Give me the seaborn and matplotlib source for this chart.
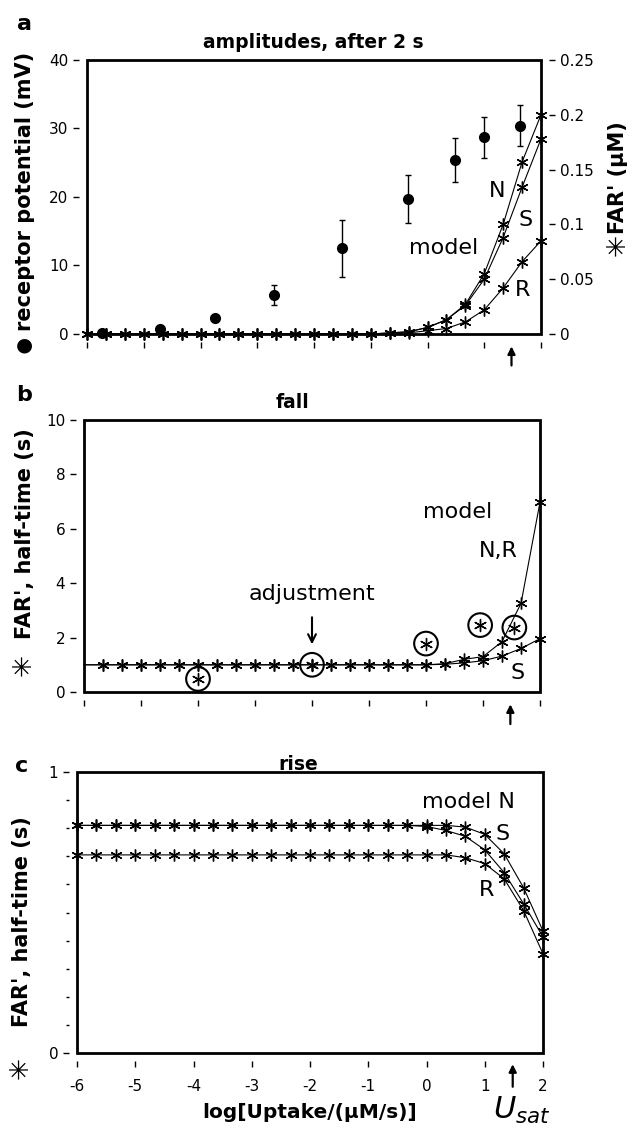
import matplotlib
matplotlib.use("Agg")
import matplotlib.pyplot as plt
from matplotlib.patches import Rectangle
from matplotlib.ticker import MultipleLocator, FixedLocator
import seaborn as sns

sns.set_theme(style="white")
plt.rcParams["font.family"] = ["DejaVu Sans"]
plt.rcParams["axes.unicode_minus"] = False
plt.rcParams["mathtext.fontset"] = "dejavusans"
for k in ["text.color", "axes.labelcolor", "xtick.color", "ytick.color"]:
    plt.rcParams[k] = "black"

# ---------------- data ----------------
x_model = [-6.0, -5.667, -5.333, -5.0, -4.667, -4.333, -4.0, -3.667, -3.333,
           -3.0, -2.667, -2.333, -2.0, -1.667, -1.333, -1.0, -0.667, -0.333,
           0.0, 0.333, 0.667, 1.0, 1.333, 1.667, 2.0]

# panel a: FAR' amplitude after 2 s (uM), right axis
a_N = [0, 0, 0, 0, 0, 0, 0, 0, 0, 0, 0, 0, 0, 0, 0, 0,
       0.001, 0.002, 0.006, 0.013, 0.027, 0.055, 0.100, 0.157, 0.200]
a_S = [0, 0, 0, 0, 0, 0, 0, 0, 0, 0, 0, 0, 0, 0, 0, 0,
       0.001, 0.002, 0.006, 0.013, 0.026, 0.050, 0.088, 0.134, 0.178]
a_R = [0, 0, 0, 0, 0, 0, 0, 0, 0, 0, 0, 0, 0, 0, 0, 0,
       0.0005, 0.001, 0.003, 0.005, 0.011, 0.022, 0.042, 0.066, 0.085]

# panel a: receptor potential (mV), left axis
exp_x = [-5.73, -4.72, -3.74, -2.70, -1.51, -0.34, 0.48, 0.99, 1.63]
exp_mV = [0.2, 0.7, 2.4, 5.7, 12.5, 19.7, 25.4, 28.7, 30.4]
exp_err = [0.0, 0.0, 0.0, 1.4, 4.2, 3.5, 3.2, 3.0, 3.0]

# panel b: fall half-time (s)
b_NR = [1.0, 1.0, 1.0, 1.0, 1.0, 1.0, 1.0, 1.0, 1.0, 1.0, 1.0, 1.0, 1.0,
        1.0, 1.0, 1.0, 1.0, 1.0, 1.0, 1.04, 1.2, 1.3, 1.85, 3.26, 6.98]
b_S = [1.0, 1.0, 1.0, 1.0, 1.0, 1.0, 1.0, 1.0, 1.0, 1.0, 1.0, 1.0, 1.0,
       1.0, 1.0, 1.0, 1.0, 1.0, 1.0, 1.02, 1.07, 1.15, 1.32, 1.6, 1.96]
adj_x = [-4.0, -2.0, 0.0, 0.95, 1.55]
adj_y = [0.48, 1.0, 1.78, 2.46, 2.37]

# panel c: rise half-time (s)
c_N = [0.81, 0.81, 0.81, 0.81, 0.81, 0.81, 0.81, 0.81, 0.81, 0.81, 0.81,
       0.81, 0.81, 0.81, 0.81, 0.81, 0.81, 0.81, 0.81, 0.81, 0.804, 0.778,
       0.709, 0.588, 0.434]
c_S = [0.81, 0.81, 0.81, 0.81, 0.81, 0.81, 0.81, 0.81, 0.81, 0.81, 0.81,
       0.81, 0.81, 0.81, 0.81, 0.81, 0.81, 0.81, 0.806, 0.792, 0.771, 0.723,
       0.642, 0.531, 0.413]
c_R = [0.705, 0.705, 0.705, 0.705, 0.705, 0.705, 0.705, 0.705, 0.705, 0.705,
       0.705, 0.705, 0.705, 0.705, 0.705, 0.705, 0.705, 0.705, 0.705, 0.705,
       0.695, 0.674, 0.62, 0.507, 0.353]

x_ticks = [-6, -5, -4, -3, -2, -1, 0, 1, 2]
x_ticklabels = ["-6", "-5", "-4", "-3", "-2", "-1", "0", "1", "2"]
u_sat = 1.48

# ---------------- figure ----------------
W, H = 632, 1130
fig = plt.figure(figsize=(W / 100, H / 100), dpi=100)


def rect(l, t, r, b):
    return [l / W, 1 - b / H, (r - l) / W, (b - t) / H]


def fx(px):
    return px / W


def fy(py):
    return 1 - py / H


axA = fig.add_axes(rect(87, 60, 541, 334))
axB = fig.add_axes(rect(84, 420, 540, 692))
axC = fig.add_axes(rect(77, 772, 543, 1053))

AST = (6, 2, 0)
line_kw = dict(color="black", lw=0.8, marker=AST, markersize=8.5, mec="black",
               mew=1.0, clip_on=False, zorder=4, estimator=None, sort=False,
               legend=False)


def style_axes(ax):
    ax.set_xlim(-6, 2)
    ax.set_facecolor("none")
    for s in ["left", "bottom", "right", "top"]:
        ax.spines[s].set_visible(False)
    ax.spines["left"].set_position(("outward", 5.5))
    ax.spines["bottom"].set_position(("outward", 5.5))
    ax.spines["right"].set_position(("outward", 5.5))
    ax.add_patch(Rectangle((0, 0), 1, 1, transform=ax.transAxes, fill=False,
                           lw=2.0, ec="black", clip_on=False, zorder=3))
    ax.tick_params(axis="both", which="major", direction="out", length=4,
                   width=1, color="black", labelsize=11, pad=4,
                   bottom=True, left=True)
    ax.xaxis.set_major_locator(FixedLocator(x_ticks))
    ax.grid(False)
    ax.set_xlabel("")
    ax.set_ylabel("")


# ---- panel a ----
style_axes(axA)
axA.set_ylim(0, 40)
axA.set_yticks([0, 10, 20, 30, 40])
axA.set_xticklabels([])
axA.errorbar(exp_x, exp_mV, yerr=exp_err, fmt="o", color="black", ms=7,
             elinewidth=1, capsize=2.5, capthick=1, clip_on=False, zorder=5)
axA2 = axA.twinx()
axA2.set_ylim(0, 0.25)
axA2.set_facecolor("none")
for s in ["left", "bottom", "right", "top"]:
    axA2.spines[s].set_visible(False)
axA2.spines["right"].set_position(("outward", 5.5))
axA2.set_yticks([0, 0.05, 0.1, 0.15, 0.2, 0.25])
axA2.set_yticklabels(["0", "0.05", "0.1", "0.15", "0.2", "0.25"])
axA2.tick_params(axis="y", direction="out", length=4, width=1, labelsize=11,
                 pad=4, right=True)
axA2.grid(False)
sns.lineplot(x=x_model, y=a_R, ax=axA2, **line_kw)
sns.lineplot(x=x_model, y=a_S, ax=axA2, **line_kw)
sns.lineplot(x=x_model, y=a_N, ax=axA2, **line_kw)
axA2.set_ylabel("")
axA2.set_xlim(-6, 2)

txt_kw = dict(fontsize=16, ha="center", va="center", color="black")
axA.text(1.22, 20.9, "N", **txt_kw)
axA.text(1.72, 16.7, "S", **txt_kw)
axA.text(0.28, 12.5, "model", **txt_kw)
axA.text(1.68, 6.4, "R", **txt_kw)

arrow_kw = dict(arrowstyle="-|>", lw=1.6, color="black", mutation_scale=11)
axA.annotate("", xy=(u_sat, -0.035), xycoords=("data", "axes fraction"),
             xytext=(u_sat, -0.125), textcoords=("data", "axes fraction"),
             arrowprops=arrow_kw, annotation_clip=False)

# ---- panel b ----
style_axes(axB)
axB.set_ylim(0, 10)
axB.set_yticks([0, 2, 4, 6, 8, 10])
axB.set_xticklabels([])
kwb = dict(line_kw)
kwb["markevery"] = list(range(1, 25))
sns.lineplot(x=x_model, y=b_S, ax=axB, **kwb)
sns.lineplot(x=x_model, y=b_NR, ax=axB, **kwb)
sns.scatterplot(x=adj_x, y=adj_y, ax=axB, marker=AST, s=75, color="black",
                edgecolor="black", linewidth=1.0, zorder=5, clip_on=False,
                legend=False)
sns.scatterplot(x=adj_x, y=adj_y, ax=axB, marker="o", s=290,
                facecolor="none", edgecolor="black", linewidth=1.5, zorder=5,
                clip_on=False, legend=False)
axB.set_xlabel("")
axB.set_ylabel("")
axB.text(0.56, 6.6, "model", **txt_kw)
axB.text(1.27, 5.2, "N,R", **txt_kw)
axB.text(1.6, 0.7, "S", **txt_kw)
axB.text(-2.0, 3.6, "adjustment", **txt_kw)
axB.annotate("", xy=(-2.0, 1.65), xytext=(-2.0, 2.85),
             arrowprops=dict(arrowstyle="->", lw=1.5, color="black",
                             mutation_scale=14))
axB.annotate("", xy=(u_sat, -0.035), xycoords=("data", "axes fraction"),
             xytext=(u_sat, -0.128), textcoords=("data", "axes fraction"),
             arrowprops=arrow_kw, annotation_clip=False)

# ---- panel c ----
style_axes(axC)
axC.set_ylim(0, 1)
axC.set_yticks([0, 1])
axC.yaxis.set_minor_locator(MultipleLocator(0.1))
axC.tick_params(axis="y", which="minor", direction="out", length=2, width=1,
                left=True)
axC.set_xticklabels(x_ticklabels)
axC.tick_params(axis="x", pad=9)
sns.lineplot(x=x_model, y=c_R, ax=axC, **line_kw)
sns.lineplot(x=x_model, y=c_S, ax=axC, **line_kw)
sns.lineplot(x=x_model, y=c_N, ax=axC, **line_kw)
axC.set_xlabel("")
axC.set_ylabel("")
axC.text(0.72, 0.894, "model N", **txt_kw)
axC.text(1.31, 0.779, "S", **txt_kw)
axC.text(1.03, 0.58, "R", **txt_kw)
axC.annotate("", xy=(u_sat, -0.03), xycoords=("data", "axes fraction"),
             xytext=(u_sat, -0.13), textcoords=("data", "axes fraction"),
             arrowprops=arrow_kw, annotation_clip=False)

# ---------------- texts ----------------
fig.text(fx(25), fy(24), "a", fontsize=16, fontweight="bold", ha="center", va="center")
fig.text(fx(24), fy(395), "b", fontsize=16, fontweight="bold", ha="center", va="center")
fig.text(fx(22), fy(766), "c", fontsize=16, fontweight="bold", ha="center", va="center")

fig.text(fx(313), fy(43), "amplitudes, after 2 s", fontsize=13.5,
         fontweight="bold", ha="center", va="center")
fig.text(fx(293), fy(402), "fall", fontsize=13.5, fontweight="bold",
         ha="center", va="center")
fig.text(fx(298), fy(765), "rise", fontsize=13.5, fontweight="bold",
         ha="center", va="center")

lab_kw = dict(fontsize=15, fontweight="bold", rotation=90, ha="center",
              va="center")
sym_kw = dict(fontsize=19, rotation=90, ha="center", va="center")
fig.text(fx(25), fy(191), "receptor potential (mV)", **lab_kw)
fig.text(fx(24), fy(345), "●", fontsize=14, ha="center", va="center")
fig.text(fx(618), fy(178), "FAR' (μM)", **lab_kw)
fig.text(fx(618), fy(245), "✳", **sym_kw)
fig.text(fx(25), fy(534), "FAR', half-time (s)", **lab_kw)
fig.text(fx(24), fy(665), "✳", **sym_kw)
fig.text(fx(22), fy(922), "FAR', half-time (s)", **lab_kw)
fig.text(fx(21), fy(1068), "✳", **sym_kw)

fig.text(fx(310), fy(1113), "log[Uptake/(μM/s)]", fontsize=14.5,
         fontweight="bold", ha="center", va="center")
fig.text(fx(522), fy(1110), r"$U_{sat}$", fontsize=22, ha="center",
         va="center")

fig.savefig("out.png", dpi=100)
